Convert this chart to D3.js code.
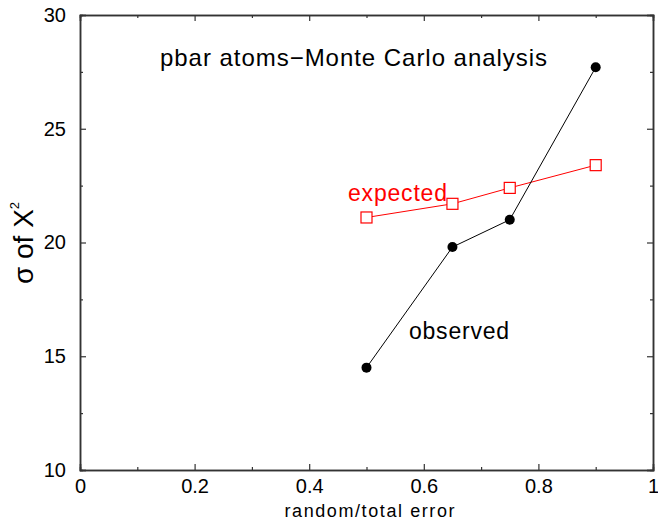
<!DOCTYPE html>
<html lang="en">
<head>
	<meta charset="UTF-8">
	<script src="https://d3js.org/d3.v7.min.js"></script>
	<title>pbar atoms - Monte Carlo analysis</title>
	<style>
		body { margin: 0; background: white; }
		svg { display: block; font-family: "Liberation Sans", Arial, sans-serif; }
	</style>
</head>
<body>
	<script>
		// values
		const ratios = [0.5, 0.65, 0.75, 0.9]
		const observed = [14.5, 19.8, 21.0, 27.7]
		const expected = [21.1, 21.7, 22.4, 23.4]
		const xTicks = [0, 0.2, 0.4, 0.6, 0.8, 1]
		const yTicks = [10, 15, 20, 25, 30]

		const W = 658, H = 523
		const frame = { left: 80, right: 653, top: 15, bottom: 470 }

		const x = d3.scaleLinear().domain([0, 1]).range([frame.left, frame.right])
		const y = d3.scaleLinear().domain([10, 30]).range([frame.bottom, frame.top])
		const fmt = d3.format("~g")

		const svg = d3.select("body").append("svg")
			.attr("width", W)
			.attr("height", H)

		// inward ticks on all four sides
		const xMinor = d3.range(0.1, 1, 0.2)
		const yMinor = d3.range(12.5, 30, 5)
		const axes = [
			{ g: d3.axisBottom(x).tickValues(xTicks).tickSize(-6).tickPadding(9).tickFormat(fmt), t: `translate(0,${frame.bottom})` },
			{ g: d3.axisBottom(x).tickValues(xMinor).tickSize(-3).tickFormat(""), t: `translate(0,${frame.bottom})` },
			{ g: d3.axisTop(x).tickValues(xTicks).tickSize(-6).tickFormat(""), t: `translate(0,${frame.top})` },
			{ g: d3.axisTop(x).tickValues(xMinor).tickSize(-3).tickFormat(""), t: `translate(0,${frame.top})` },
			{ g: d3.axisLeft(y).tickValues(yTicks).tickSize(-6).tickPadding(14), t: `translate(${frame.left},0)` },
			{ g: d3.axisLeft(y).tickValues(yMinor).tickSize(-3).tickFormat(""), t: `translate(${frame.left},0)` },
			{ g: d3.axisRight(y).tickValues(yTicks).tickSize(-6).tickFormat(""), t: `translate(${frame.right},0)` },
			{ g: d3.axisRight(y).tickValues(yMinor).tickSize(-3).tickFormat(""), t: `translate(${frame.right},0)` }
		]
		axes.forEach(a => {
			const g = svg.append("g").attr("transform", a.t).call(a.g)
			g.selectAll("path.domain").attr("stroke", "#333").attr("stroke-width", 1.5)
			g.selectAll(".tick line").attr("stroke", "#333").attr("stroke-width", 1.2)
			g.selectAll(".tick text").attr("font-size", 20).attr("fill", "black")
				.attr("font-family", "Liberation Sans, Arial, sans-serif")
		})

		// axis titles
		svg.append("text")
			.attr("x", (frame.left + frame.right) / 2 + 3)
			.attr("y", 517)
			.attr("text-anchor", "middle")
			.attr("font-size", 18)
			.attr("textLength", 170)
			.text("random/total error")

		const yl = svg.append("text")
			.attr("transform", `translate(33,243) rotate(-90)`)
			.attr("text-anchor", "middle")
			.attr("font-size", 28)
		yl.append("tspan").text("σ of X")
		yl.append("tspan").attr("font-size", 13).attr("dy", -14).text("2")

		// series
		const obsData = ratios.map((r, i) => [r, observed[i]])
		const expData = ratios.map((r, i) => [r, expected[i]])
		const line = d3.line().x(d => x(d[0])).y(d => y(d[1]))

		svg.append("path").datum(expData)
			.attr("d", line).attr("fill", "none").attr("stroke", "red").attr("stroke-width", 1)
		svg.append("path").datum(obsData)
			.attr("d", line).attr("fill", "none").attr("stroke", "black").attr("stroke-width", 1)

		svg.selectAll("rect.exp").data(expData).enter().append("rect")
			.attr("class", "exp")
			.attr("x", d => x(d[0]) - 5.5).attr("y", d => y(d[1]) - 5.5)
			.attr("width", 11).attr("height", 11)
			.attr("fill", "white").attr("stroke", "red").attr("stroke-width", 1.2)

		svg.selectAll("circle.obs").data(obsData).enter().append("circle")
			.attr("class", "obs")
			.attr("cx", d => x(d[0])).attr("cy", d => y(d[1]))
			.attr("r", 5).attr("fill", "black")

		// labels
		svg.append("text").attr("x", 160).attr("y", 66)
			.attr("font-size", 24).attr("textLength", 387)
			.text("pbar atoms\u2212Monte Carlo analysis")
		svg.append("text").attr("x", 348).attr("y", 201)
			.attr("font-size", 23).attr("fill", "red").attr("textLength", 99).text("expected")
		svg.append("text").attr("x", 409).attr("y", 339)
			.attr("font-size", 23).attr("textLength", 100).text("observed")
	</script>
</body>
</html>
